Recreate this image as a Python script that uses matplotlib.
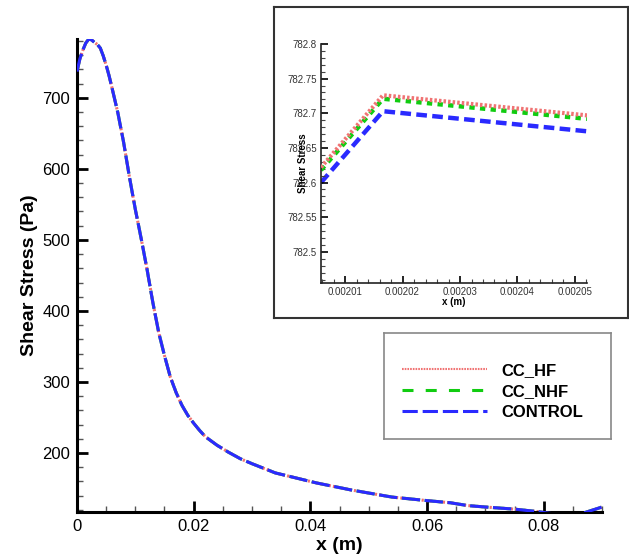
import matplotlib
matplotlib.use("Agg")
import matplotlib.pyplot as plt
from matplotlib.lines import Line2D
from matplotlib.ticker import MultipleLocator

plt.rcParams["font.family"] = ["Liberation Sans", "DejaVu Sans"]

# wall shear stress along x, the three cases coincide at this scale
x_main = [0.0, 0.0005, 0.001, 0.0015, 0.00202, 0.0025, 0.003, 0.0035, 0.004,
          0.0045, 0.005, 0.0055, 0.006, 0.007, 0.008, 0.009, 0.010, 0.011,
          0.012, 0.013, 0.014, 0.015, 0.016, 0.017, 0.018, 0.019, 0.020,
          0.021, 0.022, 0.024, 0.026, 0.028, 0.030, 0.034, 0.037, 0.041,
          0.047, 0.054, 0.060, 0.064, 0.067, 0.070, 0.075, 0.079, 0.082,
          0.085, 0.087, 0.090]
stress_main = [737, 755, 767, 777, 782.7, 781.5, 778, 775, 770,
               759, 746, 731, 714, 679, 637, 588, 543, 502,
               459, 412, 370, 337, 307, 285, 267, 253, 242,
               232, 223, 211, 201, 192, 185, 172, 166, 158,
               148, 138, 133, 130, 126, 124, 121, 117.5, 114,
               113, 116, 124]

# zoom around the peak
x_zoom = [0.0020058, 0.0020166, 0.0020521]
hf_zoom = [782.622, 782.726, 782.697]
nhf_zoom = [782.618, 782.721, 782.692]
ctrl_zoom = [782.600, 782.703, 782.674]

labels = ["CC_HF", "CC_NHF", "CONTROL"]
red = "#f07373"
green = "#11cc11"
blue = "#2a2aff"

fig = plt.figure(figsize=(6.29, 5.57), dpi=100)
ax = fig.add_axes([0.1224, 0.0808, 0.8347, 0.8492])

ax.plot(x_main, stress_main, color=green, lw=2.2, ls=(0, (6, 1.5)), zorder=1)
ax.plot(x_main, stress_main, color=red, lw=2.2, ls=(0, (0.7, 0.7)), zorder=2)
ax.plot(x_main, stress_main, color=blue, lw=2.2, ls=(0, (6, 1.5)), zorder=3)

ax.set_xlim(0, 0.09)
ax.set_ylim(117, 782.8)
ax.xaxis.set_minor_locator(MultipleLocator(0.005))
ax.yaxis.set_minor_locator(MultipleLocator(20))
ax.set_xticks([0, 0.02, 0.04, 0.06, 0.08])
ax.set_xticklabels(["0", "0.02", "0.04", "0.06", "0.08"])
ax.set_yticks([200, 300, 400, 500, 600, 700])
for s in ["top", "right"]:
    ax.spines[s].set_visible(False)
for s in ["left", "bottom"]:
    ax.spines[s].set_linewidth(2.2)
ax.tick_params(which="major", direction="in", length=8, width=2, labelsize=12, pad=5)
ax.tick_params(which="minor", direction="in", length=4.5, width=1, color="#555555")
ax.set_xlabel("x (m)", fontsize=14, fontweight="bold", labelpad=2)
ax.set_ylabel("Shear Stress (Pa)", fontsize=14, fontweight="bold", labelpad=3)

# inset frame and zoomed axes
frame = fig.add_axes([0.4356, 0.4291, 0.5628, 0.5583], zorder=3)
frame.set_xticks([])
frame.set_yticks([])
for s in frame.spines.values():
    s.set_linewidth(1.5)
    s.set_color("#333333")

ins = fig.add_axes([0.5103, 0.4919, 0.4229, 0.4291], zorder=4)
ins.patch.set_alpha(0)
ins.plot(x_zoom, hf_zoom, color=red, lw=3, ls=(0, (0.6, 0.5)), zorder=3)
ins.plot(x_zoom, nhf_zoom, color=green, lw=3.2, ls=(0, (1.2, 1.2)), zorder=2)
ins.plot(x_zoom, ctrl_zoom, color=blue, lw=3.2, ls=(0, (2.4, 1.2)), zorder=1)
ins.set_xlim(0.0020058, 0.0020521)
ins.set_ylim(782.455, 782.8)
ins.set_xticks([0.00201, 0.00202, 0.00203, 0.00204, 0.00205])
ins.set_xticklabels(["0.00201", "0.00202", "0.00203", "0.00204", "0.00205"])
ins.xaxis.set_minor_locator(MultipleLocator(0.000002))
ins.set_yticks([782.5, 782.55, 782.6, 782.65, 782.7, 782.75, 782.8])
ins.set_yticklabels(["782.5", "782.55", "782.6", "782.65", "782.7", "782.75", "782.8"])
ins.yaxis.set_minor_locator(MultipleLocator(0.01))
for s in ["top", "right"]:
    ins.spines[s].set_visible(False)
for s in ["left", "bottom"]:
    ins.spines[s].set_linewidth(1.2)
    ins.spines[s].set_color("#222222")
ins.tick_params(which="major", direction="in", length=5, width=1.2,
                labelsize=7, labelcolor="#333333", pad=3)
ins.tick_params(which="minor", direction="in", length=3, width=0.8, color="#444444")
ins.set_xlabel("x (m)", fontsize=7, fontweight="bold", labelpad=0)
# the label sits over the tick labels, as in the original figure
ins.set_ylabel("Shear Stress", fontsize=7, fontweight="bold", labelpad=-15)

# legend box
lax = fig.add_axes([0.6105, 0.2118, 0.3609, 0.1903], zorder=3)
lax.set_xticks([])
lax.set_yticks([])
for s in lax.spines.values():
    s.set_linewidth(1.2)
    s.set_color("#888888")
handles = [
    Line2D([], [], color=red, lw=1.5, ls=(0, (0.8, 0.5))),
    Line2D([], [], color=green, lw=2.2, ls=(0, (3.6, 4.0))),
    Line2D([], [], color=blue, lw=2.2, ls=(0, (5.0, 1.6))),
]
lax.legend(handles, labels, loc="center", bbox_to_anchor=(0.48, 0.45),
           frameon=False, handlelength=5.1, handletextpad=0.85,
           labelspacing=0.35, prop={"size": 12, "weight": "bold"})

fig.savefig("out.png", dpi=100)
